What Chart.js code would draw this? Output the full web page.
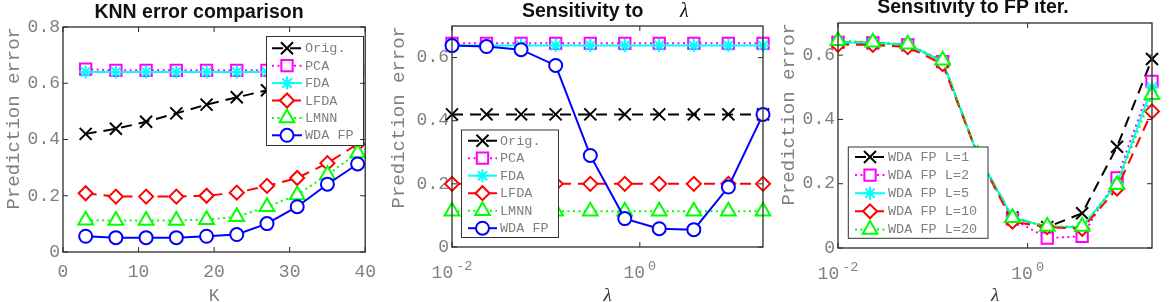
<!DOCTYPE html>
<html><head><meta charset="utf-8">
<script src="https://cdn.jsdelivr.net/npm/chart.js@4.4.1/dist/chart.umd.min.js"></script>
<style>
html,body{margin:0;padding:0;background:#fff;overflow:hidden;width:1170px;height:302px;position:relative;}
.panel{position:absolute;top:0;height:320px;}
.title{position:absolute;white-space:nowrap;font-family:"Liberation Sans",Arial,sans-serif;font-weight:bold;font-size:19.5px;line-height:20px;color:#111;}
.lam{position:absolute;white-space:nowrap;font-family:"Liberation Serif","Times New Roman",serif;font-style:italic;font-size:20px;line-height:20px;color:#111;}
</style></head><body>
<div class="panel" style="left:0;width:385px"><canvas id="c1" width="385" height="320"></canvas></div>
<div class="panel" style="left:385px;width:390px"><canvas id="c2" width="390" height="320"></canvas></div>
<div class="panel" style="left:775px;width:395px"><canvas id="c3" width="395" height="320"></canvas></div>
<div class="title" style="left:199px;top:1px;transform:translateX(-50%)">KNN error comparison</div>
<div class="title" style="left:522px;top:0px">Sensitivity to</div>
<div class="lam" style="left:680px;top:0px">λ</div>
<div class="title" style="left:973px;top:-4px;transform:translateX(-50%)">Sensitivity to FP iter.</div>
<script>
// ---------- data ----------
const kValues   = [3, 7, 11, 15, 19, 23, 27, 31, 35, 39];
const knnOrig   = [0.42, 0.438, 0.463, 0.493, 0.524, 0.55, 0.575, 0.60, 0.62, 0.64];
const knnPCA    = [0.65, 0.646, 0.646, 0.646, 0.646, 0.646, 0.646, 0.646, 0.646, 0.65];
const knnFDA    = [0.64, 0.64, 0.64, 0.64, 0.64, 0.64, 0.64, 0.64, 0.64, 0.64];
const knnLFDA   = [0.209, 0.197, 0.197, 0.197, 0.2, 0.211, 0.235, 0.263, 0.316, 0.384];
const knnLMNN   = [0.113, 0.112, 0.112, 0.112, 0.115, 0.125, 0.161, 0.203, 0.275, 0.352];
const knnWDA    = [0.056, 0.051, 0.051, 0.051, 0.056, 0.062, 0.101, 0.161, 0.241, 0.313];

const lambdaValues = [0.01, 0.0233, 0.0544, 0.127, 0.297, 0.692, 1.61, 3.76, 8.77, 20.5];
const lamOrig   = [0.42, 0.42, 0.42, 0.42, 0.42, 0.42, 0.42, 0.42, 0.42, 0.42];
const lamPCA    = [0.645, 0.645, 0.645, 0.645, 0.645, 0.645, 0.645, 0.645, 0.645, 0.645];
const lamFDA    = [0.638, 0.638, 0.638, 0.638, 0.638, 0.638, 0.638, 0.638, 0.638, 0.638];
const lamLFDA   = [0.2, 0.2, 0.2, 0.2, 0.2, 0.2, 0.2, 0.2, 0.2, 0.2];
const lamLMNN   = [0.113, 0.113, 0.113, 0.113, 0.113, 0.113, 0.113, 0.113, 0.113, 0.113];
const lamWDA    = [0.638, 0.635, 0.625, 0.575, 0.29, 0.09, 0.058, 0.055, 0.19, 0.42];

const fpL1  = [0.64, 0.638, 0.632, 0.58, 0.29, 0.095, 0.065, 0.108, 0.315, 0.588];
const fpL2  = [0.64, 0.638, 0.632, 0.58, 0.29, 0.09, 0.031, 0.036, 0.218, 0.518];
const fpL5  = [0.64, 0.638, 0.632, 0.58, 0.29, 0.095, 0.065, 0.065, 0.2, 0.5];
const fpL10 = [0.632, 0.632, 0.625, 0.572, 0.29, 0.082, 0.065, 0.06, 0.185, 0.425];
const fpL20 = [0.645, 0.64, 0.634, 0.584, 0.29, 0.094, 0.067, 0.067, 0.197, 0.477];

const methodLabels = ['Orig.', 'PCA', 'FDA', 'LFDA', 'LMNN', 'WDA FP'];
const iterLabels   = ['WDA FP L=1', 'WDA FP L=2', 'WDA FP L=5', 'WDA FP L=10', 'WDA FP L=20'];
const yTicksKNN = [0, 0.2, 0.4, 0.6, 0.8];
const yTicksLam = [0, 0.2, 0.4, 0.6];
const kTicks    = [0, 10, 20, 30, 40];
const lambdaTicks = [0.01, 1];

// ---------- styles ----------
const GRAY = '#808080';
const MONO = '"Liberation Mono", "Courier New", monospace';
const STY = [
  {color:'#000000', dash:[11,7], point:'crossRot', r:8.5},
  {color:'#ff00ff', dash:[2,3.5], point:'rect', r:8},
  {color:'#00ffff', dash:[], point:'star', r:6.5},
  {color:'#ff0000', dash:[11,7], point:'rectRot', r:7},
  {color:'#00ff00', dash:[2,3.5], point:'triangle', r:8.5},
  {color:'#0000ff', dash:[], point:'circle', r:6.5}
];

function series(xs, ys){ return xs.map((x,i)=>({x:x, y:ys[i]})); }
function ds(label, xs, ys, st, i){
  return {label, data: series(xs, ys), borderColor: st.color, backgroundColor: st.color,
    borderWidth: 2, borderDash: st.dash, pointStyle: st.point, pointRadius: st.r,
    pointHoverRadius: st.r, pointBorderWidth: 2, pointBorderColor: st.color,
    pointBackgroundColor: '#ffffff', tension: 0, clip: false, order: -i, showLine: true};
}

function drawMarker(ctx, style, r, x, y){
  if (Chart.helpers && Chart.helpers.drawPoint){
    Chart.helpers.drawPoint(ctx, {pointStyle: style, radius: r, rotation: 0, borderWidth: ctx.lineWidth}, x, y);
    return;
  }
  ctx.beginPath(); ctx.arc(x, y, r, 0, Math.PI*2); ctx.fill(); ctx.stroke();
}

const matlab = {
  id: 'matlab',
  afterDatasetsDraw(chart, args, opts){
    const L = opts.legend; if (!L) return;
    const ctx = chart.ctx; ctx.save();
    ctx.fillStyle = '#ffffff'; ctx.fillRect(L.x, L.y, L.w, L.h);
    ctx.strokeStyle = '#333333'; ctx.lineWidth = 1; ctx.strokeRect(L.x, L.y, L.w, L.h);
    chart.data.datasets.forEach((d, i) => {
      const y = L.row0 + i * L.step;
      ctx.save();
      ctx.strokeStyle = d.borderColor; ctx.lineWidth = d.borderWidth; ctx.setLineDash(d.borderDash || []);
      ctx.beginPath(); ctx.moveTo(L.s0, y); ctx.lineTo(L.s1, y); ctx.stroke();
      ctx.setLineDash([]);
      ctx.fillStyle = d.pointBackgroundColor; ctx.strokeStyle = d.pointBorderColor; ctx.lineWidth = d.pointBorderWidth;
      drawMarker(ctx, d.pointStyle, d.pointRadius, (L.s0 + L.s1) / 2, y);
      ctx.restore();
      ctx.fillStyle = GRAY; ctx.font = '13.5px ' + MONO; ctx.textBaseline = 'middle'; ctx.textAlign = 'left';
      ctx.fillText(d.label, L.tx, y + 0.5);
    });
    ctx.restore();
  },
  afterDraw(chart){
    const {ctx, chartArea: a, scales} = chart;
    const xs = scales.x, ys = scales.y;
    ctx.save();
    ctx.strokeStyle = '#2b2b2b'; ctx.lineWidth = 1.3; ctx.setLineDash([]);
    ctx.strokeRect(a.left, a.top, a.right - a.left, a.bottom - a.top);
    ctx.lineWidth = 1;
    const tl = 5;
    xs.ticks.forEach(t => {
      const p = xs.getPixelForValue(t.value);
      ctx.beginPath(); ctx.moveTo(p, a.bottom); ctx.lineTo(p, a.bottom - tl);
      ctx.moveTo(p, a.top); ctx.lineTo(p, a.top + tl); ctx.stroke();
    });
    ys.ticks.forEach(t => {
      const p = ys.getPixelForValue(t.value);
      ctx.beginPath(); ctx.moveTo(a.left, p); ctx.lineTo(a.left + tl, p);
      ctx.moveTo(a.right, p); ctx.lineTo(a.right - tl, p); ctx.stroke();
    });
    if (xs.type === 'logarithmic'){
      ctx.fillStyle = GRAY; ctx.textBaseline = 'alphabetic'; ctx.textAlign = 'left';
      xs.ticks.forEach(t => {
        const p = xs.getPixelForValue(t.value);
        const e = Math.round(Math.log10(t.value));
        const es = String(e);
        ctx.font = '18px ' + MONO; const w1 = ctx.measureText('10').width;
        ctx.font = '13.5px ' + MONO; const w2 = ctx.measureText(es).width;
        const gap = 3, x0 = p - (w1 + gap + w2) / 2;
        ctx.font = '18px ' + MONO; ctx.fillText('10', x0, a.bottom + 31);
        ctx.font = '13.5px ' + MONO; ctx.fillText(es, x0 + w1 + gap, a.bottom + 22.7);
      });
    }
    ctx.restore();
  }
};

function yScale(max, ticks, L){
  return {type: 'linear', min: 0, max: max,
    afterBuildTicks: s => { s.ticks = ticks.map(v => ({value: v})); },
    afterFit: s => { s.width = L; },
    grid: {display: false, drawTicks: false}, border: {display: false},
    ticks: {color: GRAY, font: {family: MONO, size: 18}, padding: 3, autoSkip: false},
    title: {display: true, text: 'Prediction error', align: 'end', color: GRAY,
      font: {family: MONO, size: 19}, padding: {top: 3, bottom: 0}}};
}
function xTitle(text, serif){
  return {display: true, text: text, color: serif ? '#333333' : GRAY,
    font: serif ? {family: '"Liberation Serif", serif', size: 19, style: 'italic'} : {family: MONO, size: 18},
    padding: {top: 0, bottom: 13}};
}

function makeChart(id, datasets, xCfg, yCfg, pad, legend){
  return new Chart(document.getElementById(id), {
    type: 'line',
    data: {datasets},
    options: {
      responsive: false, animation: false, devicePixelRatio: 1,
      layout: {padding: pad, autoPadding: false},
      scales: {x: xCfg, y: yCfg},
      plugins: {legend: {display: false}, tooltip: {enabled: false}, title: {display: false},
        matlab: {legend}},
      events: []
    },
    plugins: [matlab]
  });
}

// Panel 1
makeChart('c1',
  [knnOrig, knnPCA, knnFDA, knnLFDA, knnLMNN, knnWDA].map((ys, i) => ds(methodLabels[i], kValues, ys, STY[i], i)),
  {type: 'linear', min: 0, max: 40,
    afterBuildTicks: s => { s.ticks = kTicks.map(v => ({value: v})); },
    afterFit: s => { s.height = 68; },
    grid: {display: false, drawTicks: false}, border: {display: false},
    ticks: {color: GRAY, font: {family: MONO, size: 18}, padding: 9, autoSkip: false, maxRotation: 0},
    title: xTitle('K', false)},
  yScale(0.8, yTicksKNN, 63),
  {left: 0, right: 13, top: 27, bottom: 0},
  {x: 266.5, y: 36.5, w: 97, h: 109, row0: 48.3, step: 17.4, s0: 272, s1: 302, tx: 305});

function logX(H){
  return {type: 'logarithmic', min: 0.01, max: 20.5,
    afterBuildTicks: s => { s.ticks = lambdaTicks.map(v => ({value: v})); },
    afterFit: s => { s.height = H; },
    grid: {display: false, drawTicks: false}, border: {display: false},
    ticks: {display: false},
    title: xTitle('λ', true)};
}

// Panel 2
makeChart('c2',
  [lamOrig, lamPCA, lamFDA, lamLFDA, lamLMNN, lamWDA].map((ys, i) => ds(methodLabels[i], lambdaValues, ys, STY[i], i)),
  logX(73),
  yScale(0.7, yTicksLam, 67),
  {left: 0, right: 12, top: 26, bottom: 0},
  {x: 76.5, y: 130, w: 97, h: 107.5, row0: 140.7, step: 17.5, s0: 83, s1: 112, tx: 115});

// Panel 3
makeChart('c3',
  [fpL1, fpL2, fpL5, fpL10, fpL20].map((ys, i) => ds(iterLabels[i], lambdaValues, ys, STY[i], i)),
  logX(72),
  yScale(0.7, yTicksLam, 63),
  {left: 0, right: 18, top: 23, bottom: 0},
  {x: 73.3, y: 147, w: 139.7, h: 91.3, row0: 157, step: 18.1, s0: 80, s1: 110, tx: 113});
</script>
</body></html>
